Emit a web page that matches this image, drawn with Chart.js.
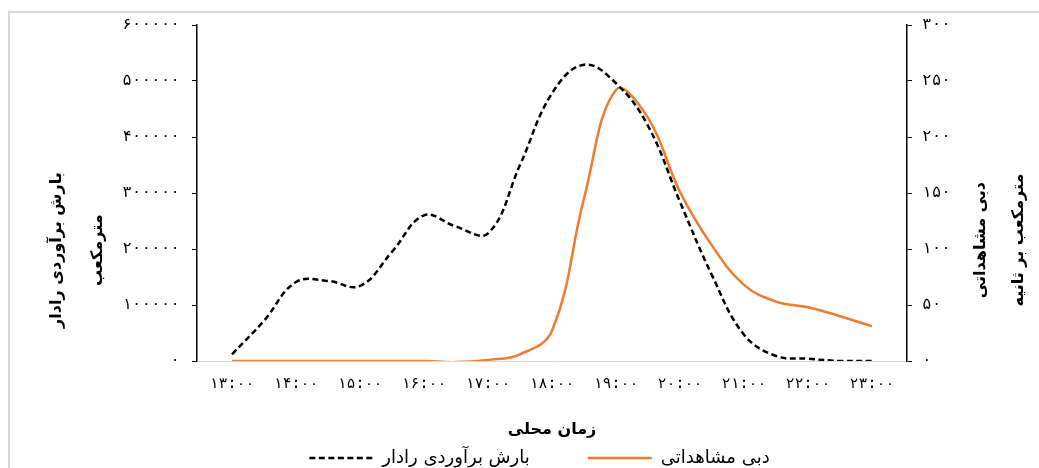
<!DOCTYPE html>
<html>
<head>
<meta charset="utf-8">
<script src="https://cdn.jsdelivr.net/npm/chart.js@4"></script>
<style>
  html, body { margin: 0; padding: 0; background: #fff; overflow: hidden; }
  #wrap { position: relative; width: 1039px; height: 477px; }
  #frame { position: absolute; left: 8px; top: 11px; width: 1100px; height: 520px; border: 2px solid #d9d9d9; }
  #chart { position: absolute; left: 0; top: 0; }
</style>
</head>
<body>
<div id="wrap">
  <div id="frame"></div>
  <canvas id="chart" width="1039" height="477"></canvas>
</div>
<script>
// half-hour samples
const times = [13, 13.5, 14, 14.5, 15, 15.5, 16, 16.5, 17, 17.5, 18, 18.5, 19, 19.5, 20, 20.5, 21, 21.5, 22, 22.5, 23];
const radarVolume = [12000, 72000, 141000, 143000, 134000, 195000, 260000, 240000, 228000, 350000, 478000, 529000, 496000, 420000, 284000, 153000, 47000, 9000, 4000, 0, 0];
const observedFlow = [0, 0, 0, 0, 0, 0, 0, -1, 1, 6, 27, 145, 242, 217, 151, 103, 68, 53, 48, 40, 31];

const hourTicks = [13, 14, 15, 16, 17, 18, 19, 20, 21, 22, 23];
const hourLabels = ["۱۳:۰۰", "۱۴:۰۰", "۱۵:۰۰", "۱۶:۰۰", "۱۷:۰۰", "۱۸:۰۰", "۱۹:۰۰", "۲۰:۰۰", "۲۱:۰۰", "۲۲:۰۰", "۲۳:۰۰"];
const leftLabels = ["۰", "۱۰۰۰۰۰", "۲۰۰۰۰۰", "۳۰۰۰۰۰", "۴۰۰۰۰۰", "۵۰۰۰۰۰", "۶۰۰۰۰۰"];
const rightLabels = ["۰", "۵۰", "۱۰۰", "۱۵۰", "۲۰۰", "۲۵۰", "۳۰۰"];

const seriesNames = ["بارش برآوردی رادار", "دبی مشاهداتی"];
const xTitle = "زمان محلی";
const leftTitle = ["بارش برآوردی رادار", "مترمکعب"];
const rightTitle = ["دبی مشاهداتی", "مترمکعب بر ثانیه"];

const FONT = "'DejaVu Sans', sans-serif";
const TICK_FONT = "'DejaVu Sans Mono', 'DejaVu Sans', monospace";

// axis titles drawn by hand: both side titles read bottom-to-top
const axisTitles = {
  id: "axisTitles",
  afterDraw(chart) {
    const { ctx, chartArea: a } = chart;
    const h = a.bottom - a.top;
    ctx.save();
    ctx.fillStyle = "#000";
    ctx.font = "bold 16px " + FONT;
    ctx.textAlign = "center";
    ctx.textBaseline = "middle";
    ctx.fillText(xTitle, (a.left + a.right) / 2, a.bottom + 69);

    const vert = (lines, xs, y) => {
      lines.forEach((t, i) => {
        ctx.save();
        ctx.translate(xs[i], y);
        ctx.rotate(-Math.PI / 2);
        ctx.fillText(t, 0, 0);
        ctx.restore();
      });
    };
    vert(leftTitle, [a.left - 140, a.left - 99], a.top + h * 0.67);
    vert(rightTitle, [a.right + 74, a.right + 112], a.top + h * 0.64);
    ctx.restore();
  },
};

const toPoints = (vals) => vals.map((v, i) => ({ x: times[i], y: v }));

// legend samples as plain line strokes, keeping the dataset dash
function legendLabels(chart) {
  const items = Chart.defaults.plugins.legend.labels.generateLabels(chart);
  return items.map((item) => {
    const ds = chart.data.datasets[item.datasetIndex];
    return {
      ...item,
      strokeStyle: ds.borderColor,
      lineWidth: ds.borderWidth,
      lineDash: ds.borderDash || [],
      pointStyle: "line",
    };
  });
}

new Chart(document.getElementById("chart"), {
  type: "line",
  data: {
    datasets: [
      {
        label: seriesNames[0],
        data: toPoints(radarVolume),
        yAxisID: "y",
        borderColor: "#000000",
        backgroundColor: "rgba(0,0,0,0)",
        borderWidth: 2.5,
        borderDash: [6, 3.5],
        pointRadius: 0,
        tension: 0.4,
      },
      {
        label: seriesNames[1],
        data: toPoints(observedFlow),
        yAxisID: "y1",
        borderColor: "#ED7D31",
        backgroundColor: "rgba(0,0,0,0)",
        borderWidth: 2.5,
        pointRadius: 0,
        tension: 0.4,
      },
    ],
  },
  options: {
    responsive: false,
    animation: false,
    layout: { padding: { top: 25, left: 40, right: 0, bottom: 0 } },
    plugins: {
      tooltip: { enabled: false },
      legend: {
        position: "bottom",
        labels: {
          color: "#000",
          font: { family: FONT, size: 18 },
          usePointStyle: true,
          pointStyle: "line",
          pointStyleWidth: 64,
          padding: 58,
          generateLabels: legendLabels,
        },
      },
    },
    scales: {
      x: {
        type: "linear",
        min: 12.453,
        max: 23.547,
        afterBuildTicks: (s) => { s.ticks = hourTicks.map((v) => ({ value: v })); },
        afterFit: (s) => { s.height = 30; },
        grid: { display: false, drawTicks: false },
        border: { color: "#d9d9d9", width: 1 },
        ticks: {
          autoSkip: false,
          maxRotation: 0,
          padding: 14,
          color: "#000",
          font: { family: TICK_FONT, size: 15 },
          callback: (v, i) => hourLabels[i],
        },
      },
      y: {
        position: "left",
        min: 0,
        max: 600000,
        afterFit: (s) => { s.width = 157; },
        grid: { drawOnChartArea: false, color: "#000", tickLength: 5 },
        border: { color: "#000", width: 1.5 },
        ticks: {
          stepSize: 100000,
          padding: 12,
          color: "#000",
          font: { family: TICK_FONT, size: 16 },
          callback: (v, i) => leftLabels[i],
        },
      },
      y1: {
        position: "right",
        min: 0,
        max: 300,
        afterFit: (s) => { s.width = 132; },
        grid: { drawOnChartArea: false, color: "#000", tickLength: 5 },
        border: { color: "#000", width: 1.5 },
        ticks: {
          stepSize: 50,
          padding: 10,
          color: "#000",
          font: { family: TICK_FONT, size: 16 },
          callback: (v, i) => rightLabels[i],
        },
      },
    },
  },
  plugins: [axisTitles],
});
</script>
</body>
</html>
